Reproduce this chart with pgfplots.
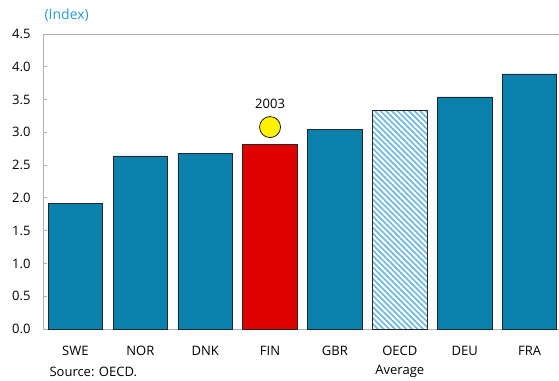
\documentclass[border=0pt]{standalone}
\usepackage{fontspec}
\setmainfont{Open Sans}
\usepackage{pgfplots}
\pgfplotsset{compat=1.18}
\usetikzlibrary{patterns.meta}
\definecolor{barblue}{RGB}{10,128,173}
\definecolor{barred}{RGB}{224,0,0}
\definecolor{hatchblue}{RGB}{110,185,222}
\definecolor{titleblue}{RGB}{42,154,210}
\definecolor{axgray}{RGB}{178,178,178}
\begin{document}
\fontsize{13bp}{15bp}\selectfont
\begin{tikzpicture}
\useasboundingbox (-43bp,-52bp) rectangle (516bp,329bp);
\begin{axis}[
  at={(0,0)}, anchor=south west,
  scale only axis, width=519bp, height=295bp,
  xmin=-0.5, xmax=7.5, ymin=0, ymax=4.5,
  axis line style={axgray, line width=0.8bp},
  axis x line*=bottom, axis y line*=left,
  ytick={0,0.5,...,4.5},
  /pgf/number format/fixed, /pgf/number format/fixed zerofill, /pgf/number format/precision=1,
  /pgf/number format/assume math mode=true,
  tick style={axgray, line width=0.8bp},
  major tick length=4bp,
  y tick label style={xshift=-8bp, font=\fontsize{13bp}{15bp}\selectfont},
  xtick={0,...,7},
  xticklabels={SWE,NOR,DNK,FIN,GBR,{OECD\\Average},DEU,FRA},
  x tick label style={align=center, yshift=-13bp, font=\fontsize{13bp}{19bp}\selectfont},
  x tick style={draw=none},
  extra x ticks={0.5,1.5,...,6.5},
  extra x tick labels={},
  extra x tick style={tick style={axgray, line width=0.8bp}, major tick length=4bp},
  tick align=inside,
  clip=false,
]
\draw[axgray, line width=0.8bp] (rel axis cs:0,1) -- (rel axis cs:1,1);
\addplot[ybar, bar width=0.84, fill=barblue, draw=black!85, line width=0.7bp]
  coordinates {(0,1.92) (1,2.64) (2,2.68) (4,3.05) (6,3.54) (7,3.89)};
\addplot[ybar, bar width=0.84, fill=barred, draw=black!85, line width=0.7bp]
  coordinates {(3,2.82)};
\addplot[ybar, bar width=0.84, fill=white, draw=black!85, line width=0.7bp,
  postaction={pattern={Lines[angle=-45, distance=4bp, line width=1.7bp]}, pattern color=hatchblue}]
  coordinates {(5,3.33)};
\addplot[only marks, mark=*, mark size=10.5bp, mark options={fill=yellow, draw=black, line width=0.7bp},
  nodes near coords={2003}, every node near coord/.append style={yshift=14bp, font=\fontsize{13bp}{15bp}\selectfont, text=black}]
  coordinates {(3,3.08)};
\end{axis}
\node[anchor=west, text=titleblue, font=\fontsize{14bp}{16bp}\selectfont] at (-3bp,314bp) {(Index)};
\node[anchor=west, font=\fontsize{13bp}{15bp}\selectfont] at (2bp,-43bp) {Source: OECD.};
\end{tikzpicture}
\end{document}
